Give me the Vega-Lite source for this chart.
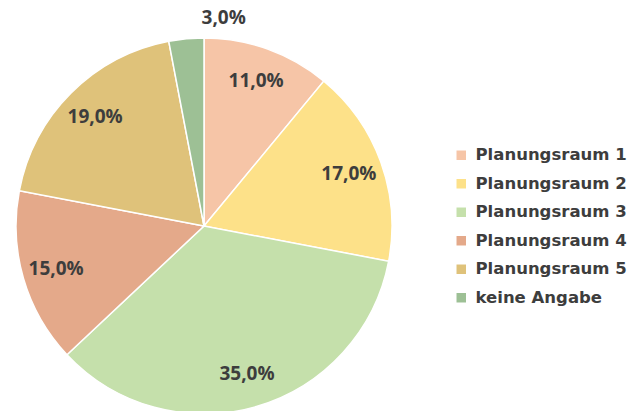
{
  "$schema": "https://vega.github.io/schema/vega-lite/v6.json",
  "width": 408,
  "height": 376,
  "autosize": {"type": "none"},
  "padding": {"left": 0, "top": 38, "right": 235, "bottom": 0},
  "background": "white",
  "config": {"view": {"stroke": null}},
  "data": {
    "values": [
      {"idx": 1, "kategorie": "Planungsraum 1", "anteil": 11, "label": "11,0%"},
      {"idx": 2, "kategorie": "Planungsraum 2", "anteil": 17, "label": "17,0%"},
      {"idx": 3, "kategorie": "Planungsraum 3", "anteil": 35, "label": "35,0%"},
      {"idx": 4, "kategorie": "Planungsraum 4", "anteil": 15, "label": "15,0%"},
      {"idx": 5, "kategorie": "Planungsraum 5", "anteil": 19, "label": "19,0%"},
      {"idx": 6, "kategorie": "keine Angabe", "anteil": 3, "label": "3,0%"}
    ]
  },
  "encoding": {
    "theta": {"field": "anteil", "type": "quantitative", "stack": true},
    "order": {"field": "idx", "type": "quantitative"},
    "color": {
      "field": "kategorie",
      "type": "nominal",
      "sort": ["Planungsraum 1", "Planungsraum 2", "Planungsraum 3", "Planungsraum 4", "Planungsraum 5", "keine Angabe"],
      "scale": {
        "domain": ["Planungsraum 1", "Planungsraum 2", "Planungsraum 3", "Planungsraum 4", "Planungsraum 5", "keine Angabe"],
        "range": ["#f6c5a7", "#fde189", "#c5e0ab", "#e4a98a", "#dfc27a", "#9dc095"]
      },
      "legend": {
        "title": null,
        "orient": "none",
        "legendX": 453,
        "legendY": 109,
        "symbolType": "square",
        "symbolSize": 90,
        "symbolStrokeWidth": 0,
        "labelFont": "DejaVu Sans",
        "labelFontWeight": "bold",
        "labelFontSize": 16.5,
        "labelColor": "#3d3d3d",
        "labelLimit": 300,
        "rowPadding": 11.5,
        "labelOffset": 6
      }
    }
  },
  "layer": [
    {
      "mark": {"type": "arc", "outerRadius": 188, "stroke": "white", "strokeWidth": 1.5}
    },
    {
      "transform": [{"filter": "datum.anteil >= 5"}],
      "mark": {"type": "text", "radius": 154, "font": "Open Sans", "fontWeight": "bold", "fontSize": 19},
      "encoding": {"text": {"field": "label", "type": "nominal"}, "color": {"value": "#3d3d3d"}}
    },
    {
      "transform": [{"filter": "datum.anteil < 5"}],
      "mark": {"type": "text", "radius": 209, "font": "Open Sans", "fontWeight": "bold", "fontSize": 19},
      "encoding": {"text": {"field": "label", "type": "nominal"}, "color": {"value": "#3d3d3d"}}
    }
  ]
}
